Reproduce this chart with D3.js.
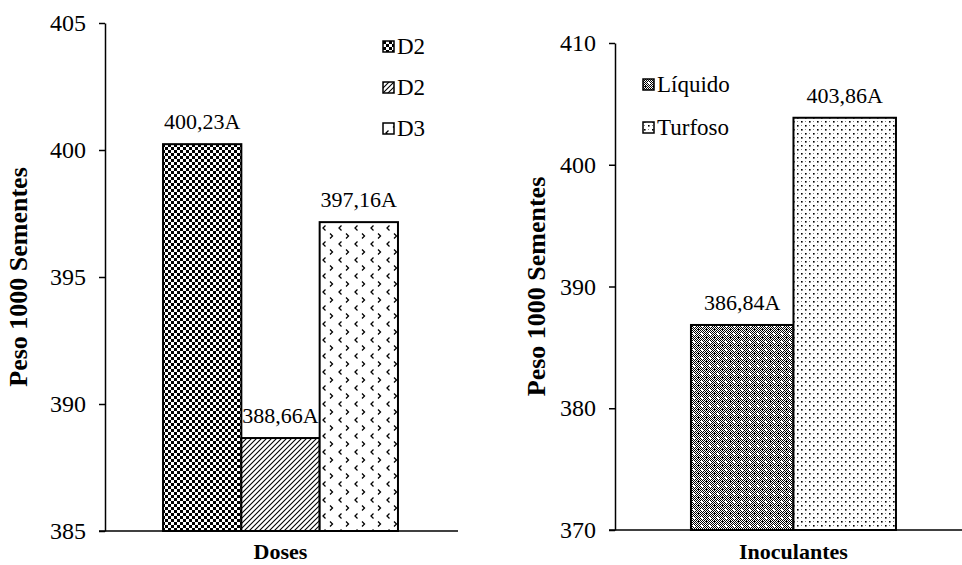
<!DOCTYPE html>
<html>
<head>
<meta charset="utf-8">
<script src="https://cdn.jsdelivr.net/npm/d3@7"></script>
<style>
  body { margin: 0; background: #fff; }
  svg text { font-family: "Liberation Serif", "Times New Roman", serif !important; fill: #000; }
</style>
</head>
<body>
<svg id="chart" width="962" height="565"></svg>
<script>
// left panel - doses
var doseNames = ["D2", "D2", "D3"]
var doseValues = [400.23, 388.66, 397.16]
var doseLabels = ["400,23A", "388,66A", "397,16A"]
var doseTicks = [385, 390, 395, 400, 405]

// right panel - inoculantes
var inocNames = ["Líquido", "Turfoso"]
var inocValues = [386.84, 403.86]
var inocLabels = ["386,84A", "403,86A"]
var inocTicks = [370, 380, 390, 400, 410]

var svg = d3.select("#chart")
var defs = svg.append("defs")

// fill patterns, roughly like the excel hatches
function pat(id, w, h) {
    return defs.append("pattern")
        .attr("id", id)
        .attr("patternUnits", "userSpaceOnUse")
        .attr("width", w)
        .attr("height", h)
}

var p1 = pat("checker", 6, 6)
p1.append("rect").attr("width", 6).attr("height", 6).attr("fill", "#fff")
p1.append("rect").attr("width", 3).attr("height", 3).attr("fill", "#000")
p1.append("rect").attr("x", 3).attr("y", 3).attr("width", 3).attr("height", 3).attr("fill", "#000")

var p2 = pat("diag", 5, 5)
p2.append("rect").attr("width", 5).attr("height", 5).attr("fill", "#fff")
p2.append("path").attr("d", "M-1,1 L1,-1 M0,5 L5,0 M4,6 L6,4")
    .attr("stroke", "#000").attr("stroke-width", 1.1)

var p3 = pat("chevron", 16, 16)
p3.append("rect").attr("width", 16).attr("height", 16).attr("fill", "#fff")
p3.append("path").attr("d", "M5.5,1.5 L3,4 L5.5,6.5 M10,9.5 L12.5,12 L10,14.5")
    .attr("fill", "none").attr("stroke", "#000").attr("stroke-width", 1.3)

var p4 = pat("darkgrid", 8, 8)
p4.append("rect").attr("width", 8).attr("height", 8).attr("fill", "#fff")
for (var i = 0; i < 8; i++) {
    for (var j = 0; j < 8; j++) {
        if ((i + j) % 2 == 0) p4.append("rect").attr("x", i).attr("y", j).attr("width", 1).attr("height", 1).attr("fill", "#000")
    }
}
p4.append("rect").attr("x", 1).attr("y", 1).attr("width", 3).attr("height", 1).attr("fill", "#111")
p4.append("rect").attr("x", 5).attr("y", 5).attr("width", 2).attr("height", 2).attr("fill", "#fff")

var p5 = pat("dots", 8, 8)
p5.append("rect").attr("width", 8).attr("height", 8).attr("fill", "#fff")
p5.append("rect").attr("x", 1).attr("y", 1).attr("width", 1.6).attr("height", 1.6).attr("fill", "#000")
p5.append("rect").attr("x", 5).attr("y", 5).attr("width", 1.6).attr("height", 1.6).attr("fill", "#000")
p5.append("rect").attr("x", 5).attr("y", 1).attr("width", 1).attr("height", 1).attr("fill", "#888")
p5.append("rect").attr("x", 1).attr("y", 5).attr("width", 1).attr("height", 1).attr("fill", "#888")

function drawPanel(opt) {
    var g = svg.append("g")

    var y = d3.scaleLinear().domain(opt.domain).range(opt.yRange)

    var x0 = d3.scaleBand().domain([opt.title]).range(opt.xRange)
        .paddingOuter(opt.pad).align(opt.align)
    var x1 = d3.scaleBand().domain(d3.range(opt.values.length))
        .range([0, x0.bandwidth()])

    // bars
    g.selectAll(".bar")
        .data(opt.values)
        .join("rect")
        .attr("x", (d, i) => x0(opt.title) + x1(i))
        .attr("y", d => y(d))
        .attr("width", x1.bandwidth())
        .attr("height", d => y(opt.domain[0]) - y(d))
        .attr("fill", (d, i) => "url(#" + opt.fills[i] + ")")
        .attr("stroke", "#000")
        .attr("stroke-width", 2)

    // value labels
    g.selectAll(".lbl")
        .data(opt.values)
        .join("text")
        .attr("x", (d, i) => x0(opt.title) + x1(i) + x1.bandwidth() / 2)
        .attr("y", d => y(d) - 15)
        .attr("text-anchor", "middle")
        .style("font-size", "22px")
        .text((d, i) => opt.labels[i])

    // y axis
    var ax = g.append("g")
        .attr("transform", "translate(" + opt.xRange[0] + ",0)")
        .call(d3.axisLeft(y).tickValues(opt.ticks).tickSize(6).tickPadding(13).tickSizeOuter(0))
    ax.attr("font-family", null)
    ax.select(".domain").attr("stroke", "#000").attr("stroke-width", 1.5)
    ax.selectAll(".tick line").attr("stroke", "#000").attr("stroke-width", 1.5)
    ax.selectAll(".tick text")
        .style("font-size", "24px")
        .attr("fill", "#000")

    // baseline
    g.append("line")
        .attr("x1", opt.xRange[0] - 6)
        .attr("x2", opt.xEnd)
        .attr("y1", y(opt.domain[0]))
        .attr("y2", y(opt.domain[0]))
        .attr("stroke", "#000")
        .attr("stroke-width", 1.5)

    // axis titles
    g.append("text")
        .attr("transform", "translate(" + opt.yTitleX + "," + ((opt.yRange[0] + opt.yRange[1]) / 2) + ") rotate(-90)")
        .attr("text-anchor", "middle")
        .style("font-size", "26px")
        .style("font-weight", "bold")
        .text("Peso 1000 Sementes")

    g.append("text")
        .attr("x", x0(opt.title) + x0.bandwidth() / 2)
        .attr("y", 559)
        .attr("text-anchor", "middle")
        .style("font-size", "22px")
        .style("font-weight", "bold")
        .text(opt.title)

    // legend
    var lg = g.selectAll(".leg")
        .data(opt.names)
        .join("g")
        .attr("transform", (d, i) => "translate(" + opt.legX + "," + (opt.legY + i * opt.legStep) + ")")
    lg.append("rect")
        .attr("x", 0).attr("y", -6)
        .attr("width", 11).attr("height", 11)
        .attr("fill", (d, i) => "url(#" + opt.fills[i] + ")")
        .attr("stroke", "#000")
        .attr("stroke-width", 1.5)
    lg.append("text")
        .attr("x", 14)
        .attr("y", 7)
        .style("font-size", "23px")
        .text(d => d)
}

drawPanel({
    title: "Doses",
    values: doseValues,
    labels: doseLabels,
    names: doseNames,
    ticks: doseTicks,
    fills: ["checker", "diag", "chevron"],
    domain: [385, 405],
    yRange: [531, 23],
    xRange: [105, 456],
    xEnd: 458,
    pad: 0.247,
    align: 0.5,
    yTitleX: 27,
    legX: 383,
    legY: 47,
    legStep: 41
})

drawPanel({
    title: "Inoculantes",
    values: inocValues,
    labels: inocLabels,
    names: inocNames,
    ticks: inocTicks,
    fills: ["darkgrid", "dots"],
    domain: [370, 410],
    yRange: [530, 43],
    xRange: [615, 962],
    xEnd: 962,
    pad: 0.3463,
    align: 0.535,
    yTitleX: 545,
    legX: 643,
    legY: 85,
    legStep: 43
})
</script>
</body>
</html>
